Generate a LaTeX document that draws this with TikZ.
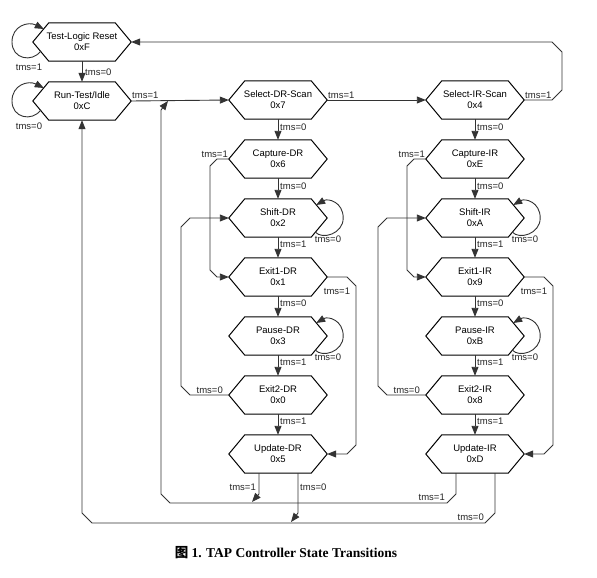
\documentclass[tikz,border=0pt]{standalone}
\usepackage{fontspec}
\setmainfont{Liberation Sans}
\newfontfamily\capfont{Liberation Serif}
\newfontfamily\cjkfont{Noto Sans CJK SC}
\usetikzlibrary{arrows.meta,calc}
\tikzset{
  hexstate/.style={minimum width=98pt, minimum height=38pt, inner sep=0pt, align=center,
    font=\fontsize{9.5}{11}\selectfont},
  hexline/.style={draw=black, line width=1pt, line join=miter},
  conn/.style={draw=black!80, line width=0.9pt},
  arr/.style={conn, -{Triangle[length=9pt,width=7pt]}},
  lbl/.style={font=\fontsize{9.5}{11}\selectfont, inner sep=1pt, text=black!85},
}
\begin{document}
\begin{tikzpicture}[x=1pt, y=-1pt]
\useasboundingbox[fill=white] (0,0) rectangle (597,578);
% states
\node[hexstate] (tlr) at (82,42) {Test-Logic Reset\\0xF};
\node[hexstate] (rti) at (82,101) {Run-Test/Idle\\0xC};
\node[hexstate] (sds) at (278,100) {Select-DR-Scan\\0x7};
\node[hexstate] (sis) at (475,100) {Select-IR-Scan\\0x4};
\node[hexstate] (cdr) at (278,159) {Capture-DR\\0x6};
\node[hexstate] (shdr) at (278,218) {Shift-DR\\0x2};
\node[hexstate] (eadr) at (278,277) {Exit1-DR\\0x1};
\node[hexstate] (pdr) at (278,336) {Pause-DR\\0x3};
\node[hexstate] (ebdr) at (278,395) {Exit2-DR\\0x0};
\node[hexstate] (udr) at (278,454) {Update-DR\\0x5};
\node[hexstate] (cir) at (475,159) {Capture-IR\\0xE};
\node[hexstate] (shir) at (475,218) {Shift-IR\\0xA};
\node[hexstate] (eair) at (475,277) {Exit1-IR\\0x9};
\node[hexstate] (pir) at (475,336) {Pause-IR\\0xB};
\node[hexstate] (ebir) at (475,395) {Exit2-IR\\0x8};
\node[hexstate] (uir) at (475,454) {Update-IR\\0xD};
\foreach \n in {tlr,rti,sds,sis,cdr,shdr,eadr,pdr,ebdr,udr,cir,shir,eair,pir,ebir,uir}{
  \draw[hexline] (\n.west) -- ([xshift=16pt]\n.north west) -- ([xshift=-16pt]\n.north east)
    -- (\n.east) -- ([xshift=-16pt]\n.south east) -- ([xshift=16pt]\n.south west) -- cycle;
}
% self loops
\draw[arr] ([shift={(8,9)}]tlr.west) .. controls (32,63) and (12,59) .. (12,42)
  .. controls (12,26) and (28,21) .. ([shift={(11,-13)}]tlr.west);
\draw[arr] ([shift={(8,9)}]rti.west) .. controls (32,122) and (12,118) .. (12,101)
  .. controls (12,85) and (28,80) .. ([shift={(11,-13)}]rti.west);
\foreach \n in {shdr,pdr,shir,pir}{
  \draw[arr] ([shift={(-12,14)}]\n.east) .. controls ([shift={(-5,22)}]\n.east) and ([shift={(16,16)}]\n.east) .. ([shift={(16,0)}]\n.east)
    .. controls ([shift={(16,-16)}]\n.east) and ([shift={(1,-20)}]\n.east) .. ([shift={(-11,-13)}]\n.east);
}
% straight transitions
\draw[arr] (tlr.south) -- (rti.north);
\draw[arr] (rti.east) -- (sds.west);
\draw[arr] (sds.east) -- (sis.west);
\draw[arr] (sds.south) -- (cdr.north);
\draw[arr] (cdr.south) -- (shdr.north);
\draw[arr] (shdr.south) -- (eadr.north);
\draw[arr] (eadr.south) -- (pdr.north);
\draw[arr] (pdr.south) -- (ebdr.north);
\draw[arr] (ebdr.south) -- (udr.north);
\draw[arr] (sis.south) -- (cir.north);
\draw[arr] (cir.south) -- (shir.north);
\draw[arr] (shir.south) -- (eair.north);
\draw[arr] (eair.south) -- (pir.north);
\draw[arr] (pir.south) -- (ebir.north);
\draw[arr] (ebir.south) -- (uir.north);
% bent transitions
\draw[arr] (sis.east) -- (552,100) -- (562,90) -- (562,52) -- (552,42) -- (tlr.east);
\draw[arr] (cdr.west) -- (217,159) -- (210,166) -- (210,270) -- (217,277) -- (eadr.west);
\draw[arr] (cir.west) -- (414,159) -- (407,166) -- (407,270) -- (414,277) -- (eair.west);
\draw[arr] (ebdr.west) -- (190,395) -- (181,386) -- (181,227) -- (190,218) -- (shdr.west);
\draw[arr] (ebir.west) -- (387,395) -- (378,386) -- (378,227) -- (387,218) -- (shir.west);
\draw[arr] (eadr.east) -- (347,277) -- (356,286) -- (356,445) -- (347,454) -- (udr.east);
\draw[arr] (eair.east) -- (544,277) -- (553,286) -- (553,445) -- (544,454) -- (uir.east);
\coordinate (ja) at (252,502);
\coordinate (jb) at (291,522);
\coordinate (jc) at (168,101);
\draw[arr] ([xshift=-19pt]udr.south) -- (259,494) -- (ja);
\draw[arr] ([xshift=20pt]udr.south) -- (298,513) -- (jb);
\draw[arr] ([xshift=-19pt]uir.south) -- (456,494) -- (447,503) -- (170,503) -- (161,494) -- (161,110) -- (jc);
\draw[arr] ([xshift=20pt]uir.south) -- (495,513) -- (485,523) -- (92,523) -- (82,513) -- (rti.south);
% labels
\node[lbl] (la) at (29,67) {tms=1};
\node[lbl] (lb) at (29,126) {tms=0};
\node[lbl, anchor=west] (lc) at (84,72) {tms=0};
\node[lbl, anchor=south west] (ld) at (131,100) {tms=1};
\node[lbl, anchor=south west] (le) at (327,100) {tms=1};
\node[lbl, anchor=south west] (lf) at (524,100) {tms=1};
\foreach \x in {279,476}{
  \node[lbl, anchor=west] at (\x,127) {tms=0};
  \node[lbl, anchor=west] at (\x,186) {tms=0};
  \node[lbl, anchor=west] at (\x,244) {tms=1};
  \node[lbl, anchor=west] at (\x,303) {tms=0};
  \node[lbl, anchor=west] at (\x,362) {tms=1};
  \node[lbl, anchor=west] at (\x,421) {tms=1};
}
\foreach \d in {0,197}{
  \node[lbl, anchor=south east] at (229+\d,159) {tms=1};
  \node[lbl] at (328+\d,239) {tms=0};
  \node[lbl] at (328+\d,357) {tms=0};
  \node[lbl] at (337+\d,291) {tms=1};
  \node[lbl, anchor=south east] at (224+\d,395) {tms=0};
}
\node[lbl, anchor=east] (lg) at (257,487) {tms=1};
\node[lbl, anchor=west] (lh) at (299,487) {tms=0};
\node[lbl, anchor=south east] (li) at (446,502) {tms=1};
\node[lbl, anchor=south east] (lj) at (485,522) {tms=0};
% caption
\node (cap) at (286,553) {\fontsize{13.5}{15}\selectfont\cjkfont\bfseries 图\ \capfont\bfseries 1. TAP Controller State Transitions};
\end{tikzpicture}
\end{document}
